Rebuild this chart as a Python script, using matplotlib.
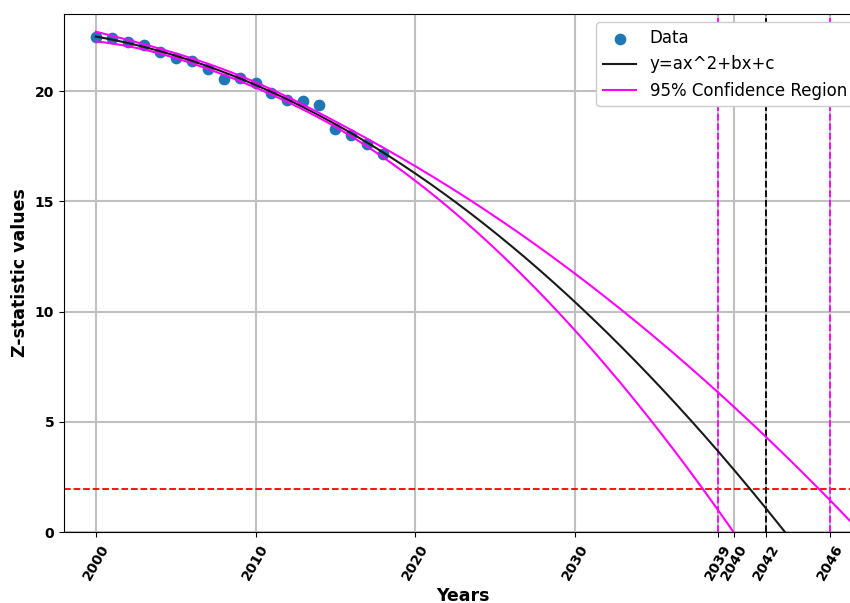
import numpy as np
import matplotlib
matplotlib.use("Agg")
import matplotlib.pyplot as plt

# Observed data
years = [2000, 2001, 2002, 2003, 2004, 2005, 2006, 2007, 2008, 2009,
         2010, 2011, 2012, 2013, 2014, 2015, 2016, 2017, 2018]
z_values = [22.46, 22.43, 22.24, 22.09, 21.78, 21.52, 21.36, 21.0, 20.56, 20.59,
            20.38, 19.93, 19.62, 19.56, 19.36, 18.28, 18.0, 17.6, 17.14]

base_year = 2000
z_crit = 1.96          # 95% confidence multiplier
threshold = 1.96       # significance line
lower_cross_year = 2039
fit_cross_year = 2042
upper_cross_year = 2046

xtick_values = [2000, 2010, 2020, 2030, 2039, 2040, 2042, 2046]
ytick_values = [0, 5, 10, 15, 20]

# Quadratic least-squares fit and its 95% confidence band
t_data = np.array(years, dtype=float) - base_year
coeffs, cov = np.polyfit(t_data, np.array(z_values), 2, cov=True)

t = np.linspace(0, 48, 500)
xs = base_year + t
J = np.vstack([t**2, t, np.ones_like(t)]).T
fit = np.polyval(coeffs, t)
half_width = z_crit * np.sqrt(np.einsum('ij,jk,ik->i', J, cov, J))
upper = fit + half_width
lower = fit - half_width

fig = plt.figure(figsize=(8.5, 6.03), dpi=100)
ax = fig.add_axes([64/850, (603-532)/603, (862-64)/850, (532-14)/603])

ax.scatter(years, z_values, s=55, color='tab:blue', label='Data', zorder=3)
ax.plot(xs, fit, color='#1a1a1a', lw=1.5, label='y=ax^2+bx+c', zorder=4)
ax.plot(xs, upper, color='magenta', lw=1.5, label='95% Confidence Region', zorder=4)
ax.plot(xs, lower, color='magenta', lw=1.5, zorder=4)

ax.axhline(threshold, color='red', ls='--', lw=1.3, zorder=2)
ax.axvline(lower_cross_year, color='magenta', ls='--', lw=1.3, zorder=2)
ax.axvline(upper_cross_year, color='magenta', ls='--', lw=1.3, zorder=2)
ax.axvline(fit_cross_year, color='black', ls='--', lw=1.3, zorder=2)

ax.set_xlim(1998.0, 2048.0)
ax.set_ylim(0, 23.5)
ax.set_xticks(xtick_values)
ax.set_xticklabels([str(v) for v in xtick_values], rotation=60, fontweight='bold', fontsize=10)
ax.set_yticks(ytick_values)
ax.set_yticklabels([str(v) for v in ytick_values], fontweight='bold', fontsize=10)
ax.grid(True, color='#c0c0c0', lw=1.5, zorder=0)
ax.set_axisbelow(True)

ax.set_xlabel('Years', fontweight='bold', fontsize=12.5, labelpad=3)
ax.set_ylabel('Z-statistic values', fontweight='bold', fontsize=12.5)

ax.legend(loc='upper right', fontsize=12, framealpha=1.0)

fig.savefig('out.png', dpi=100)
